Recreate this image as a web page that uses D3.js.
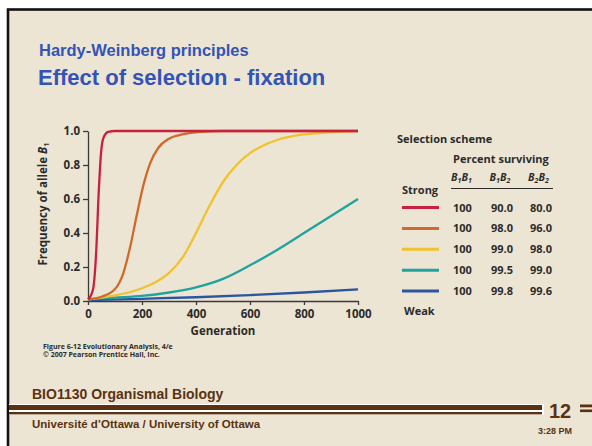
<!DOCTYPE html>
<html>
<head>
<meta charset="utf-8">
<script src="https://cdn.jsdelivr.net/npm/d3@7"></script>
<style>
  body { margin: 0; background: #fff; }
  svg { display: block; }
  .fig text { font-family: "Open Sans", sans-serif; font-weight: 700; fill: #2b2b2b; }
  .slide text { font-family: "Liberation Sans", Arial, sans-serif; font-weight: 700; }
</style>
</head>
<body>
<div id="chart"></div>
<script>
// Allele frequency curves: [generation, frequency of B1]
const strong = [[0,0.01],[10,0.03],[20,0.08],[30,0.28],[40,0.65],[50,0.9],[60,0.97],[75,0.995],[100,1],[1000,1]];
const medium = [[0,0.01],[50,0.025],[100,0.07],[130,0.16],[155,0.31],[180,0.5],[205,0.68],[230,0.81],[260,0.9],[300,0.955],[350,0.98],[420,0.995],[500,1],[1000,1]];
const moderate = [[0,0.01],[50,0.02],[100,0.033],[150,0.05],[200,0.075],[250,0.11],[300,0.165],[350,0.255],[400,0.4],[450,0.56],[500,0.7],[550,0.8],[600,0.87],[650,0.915],[700,0.947],[800,0.98],[900,0.993],[1000,1]];
const mild = [[0,0.01],[100,0.02],[200,0.03],[300,0.05],[400,0.08],[500,0.13],[600,0.21],[700,0.3],[800,0.4],[900,0.5],[1000,0.6]];
const weak = [[0,0.005],[200,0.013],[400,0.022],[600,0.035],[800,0.05],[1000,0.068]];

// legend table
const survB1B1 = ["100", "100", "100", "100", "100"];
const survB1B2 = ["90.0", "98.0", "99.0", "99.5", "99.8"];
const survB2B2 = ["80.0", "96.0", "98.0", "99.0", "99.6"];
const colors = ["#c8213f", "#cf6a2c", "#f0c22e", "#1fa39e", "#2a56a0"];

const xTicks = [0, 200, 400, 600, 800, 1000];
const yTicks = [0, 0.2, 0.4, 0.6, 0.8, 1.0];

const W = 592, H = 446;
const brown = "#5a3211";

const svg = d3.select("#chart").append("svg")
    .attr("width", W)
    .attr("height", H);

// slide background + frame
const slide = svg.append("g").attr("class", "slide");
slide.append("rect")
    .attr("x", 8).attr("y", 9.5)
    .attr("width", W).attr("height", H)
    .attr("fill", "#ede5d4")
    .attr("stroke", "#111")
    .attr("stroke-width", 2.6);

slide.append("text")
    .attr("x", 39).attr("y", 56)
    .attr("fill", "#3453b6")
    .style("font-size", "16.5px")
    .text("Hardy-Weinberg principles");

slide.append("text")
    .attr("x", 38).attr("y", 85)
    .attr("fill", "#3453b6")
    .style("font-size", "22px")
    .text("Effect of selection - fixation");

// footer
slide.append("text")
    .attr("x", 32).attr("y", 399)
    .attr("fill", brown)
    .style("font-size", "14px")
    .text("BIO1130 Organismal Biology");

slide.append("rect").attr("x", 9).attr("y", 404).attr("width", 535).attr("height", 11).attr("fill", "#fff");
slide.append("rect").attr("x", 9).attr("y", 405).attr("width", 533).attr("height", 5).attr("fill", brown);
slide.append("rect").attr("x", 9).attr("y", 412).attr("width", 533).attr("height", 2.4).attr("fill", brown);
slide.append("rect").attr("x", 580).attr("y", 404.5).attr("width", 12).attr("height", 2.8).attr("fill", brown);
slide.append("rect").attr("x", 580).attr("y", 409.5).attr("width", 12).attr("height", 2.6).attr("fill", brown);

slide.append("text")
    .attr("x", 549).attr("y", 418)
    .attr("fill", brown)
    .style("font-size", "20px")
    .text("12");

slide.append("text")
    .attr("x", 32).attr("y", 428)
    .attr("fill", brown)
    .style("font-size", "11.5px")
    .text("Université d’Ottawa / University of Ottawa");

slide.append("text")
    .attr("x", 538).attr("y", 434)
    .attr("fill", brown)
    .style("font-size", "9px")
    .text("3:28 PM");

// figure
const fig = svg.append("g").attr("class", "fig");

const x = d3.scaleLinear().domain([0, 1000]).range([88, 358]);
const y = d3.scaleLinear().domain([0, 1]).range([301, 131]);

const xAxis = fig.append("g")
    .attr("transform", "translate(0,301)")
    .call(d3.axisBottom(x).tickValues(xTicks).tickFormat(d3.format("d")).tickSize(4).tickSizeOuter(0));

const yAxis = fig.append("g")
    .attr("transform", "translate(88,0)")
    .call(d3.axisLeft(y).tickValues(yTicks).tickFormat(d3.format(".1f")).tickSize(5).tickSizeOuter(0));

[xAxis, yAxis].forEach(a => {
    a.select(".domain").attr("stroke", "#3a3a3a").attr("stroke-width", 1.3);
    a.selectAll(".tick line").attr("stroke", "#3a3a3a").attr("stroke-width", 1.3);
    a.selectAll(".tick text")
        .attr("fill", "#2b2b2b")
        .style("font-family", "'Open Sans', sans-serif")
        .style("font-weight", 700)
        .style("font-size", "11.5px");
});
xAxis.selectAll(".tick text").attr("dy", "0.85em");

fig.append("text")
    .attr("x", 223).attr("y", 335)
    .attr("text-anchor", "middle")
    .style("font-size", "11.5px")
    .text("Generation");

const yl = fig.append("text")
    .attr("transform", "translate(47,204) rotate(-90)")
    .attr("text-anchor", "middle")
    .style("font-size", "11.5px");
yl.append("tspan").text("Frequency of allele ");
yl.append("tspan").style("font-style", "italic").text("B");
yl.append("tspan").attr("dy", 2).style("font-size", "7.5px").text("1");

// credit
fig.append("text")
    .attr("x", 43).attr("y", 349)
    .style("font-size", "7px")
    .attr("fill", "#555")
    .text("Figure 6-12  Evolutionary Analysis, 4/e");
fig.append("text")
    .attr("x", 43).attr("y", 357)
    .style("font-size", "7px")
    .attr("fill", "#555")
    .text("© 2007 Pearson Prentice Hall, Inc.");

// curves (weakest drawn first)
const series = [strong, medium, moderate, mild, weak];
const line = d3.line()
    .x(d => x(d[0]))
    .y(d => y(d[1]))
    .curve(d3.curveMonotoneX);

fig.selectAll(".curve")
    .data(series.map((s, i) => ({ s, i })).reverse())
    .enter().append("path")
    .attr("class", "curve")
    .attr("d", d => line(d.s))
    .attr("fill", "none")
    .attr("stroke", d => colors[d.i])
    .attr("stroke-width", 2.3);

// legend
fig.append("text").attr("x", 397).attr("y", 143).style("font-size", "11px").text("Selection scheme");
fig.append("text").attr("x", 453).attr("y", 163).style("font-size", "11px").text("Percent surviving");
fig.append("text").attr("x", 402).attr("y", 194).style("font-size", "11px").text("Strong");
fig.append("text").attr("x", 404).attr("y", 315).style("font-size", "11px").text("Weak");

const headers = [["1", "1"], ["1", "2"], ["2", "2"]];
const colX = d3.scalePoint().domain([0, 1, 2]).range([451, 528]);
headers.forEach((h, j) => {
    const t = fig.append("text")
        .attr("x", colX(j)).attr("y", 181)
        .style("font-size", "10.5px")
        .style("font-style", "italic");
    t.append("tspan").text("B");
    t.append("tspan").attr("dy", 2).style("font-size", "7px").text(h[0]);
    t.append("tspan").attr("dy", -2).text("B");
    t.append("tspan").attr("dy", 2).style("font-size", "7px").text(h[1]);
});
fig.append("line")
    .attr("x1", 451).attr("x2", 553)
    .attr("y1", 188.5).attr("y2", 188.5)
    .attr("stroke", "#2b2b2b").attr("stroke-width", 1.2);

const rowY = d3.scalePoint().domain(d3.range(5)).range([207.5, 291]);
const rows = fig.selectAll(".row")
    .data(d3.range(5))
    .enter().append("g")
    .attr("class", "row")
    .attr("transform", i => `translate(0,${rowY(i)})`);

rows.append("line")
    .attr("x1", 402).attr("x2", 439)
    .attr("stroke", i => colors[i])
    .attr("stroke-width", 3);

[survB1B1, survB1B2, survB2B2].forEach((col, j) => {
    rows.append("text")
        .attr("x", [453, 491, 530][j])
        .attr("y", 4)
        .style("font-size", "11px")
        .text(i => col[i]);
});
</script>
</body>
</html>
